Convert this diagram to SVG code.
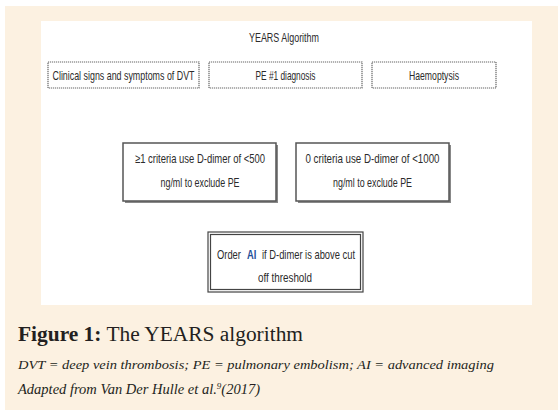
<svg xmlns="http://www.w3.org/2000/svg" width="558" height="410" viewBox="0 0 558 410">
<style>
.t{font-family:"Liberation Sans",Arial,sans-serif;font-size:13px;fill:#2b2b2b;text-anchor:middle}
.s{text-anchor:start}
.dash{fill:#fff;stroke:#666;stroke-width:1.2;stroke-dasharray:1.2 0.8}
.solid{fill:#fff;stroke:#555;stroke-width:1.5}
.cap{font-family:"Liberation Serif","Times New Roman",serif;fill:#231f20}
</style>
<rect x="0" y="0" width="558" height="410" fill="#fff"/>
<rect x="5" y="6" width="553" height="404" fill="#fcf1e1"/>
<rect x="41" y="21" width="491" height="284" fill="#fff"/>
<text class="t" x="284" y="42" textLength="70" lengthAdjust="spacingAndGlyphs">YEARS Algorithm</text>
<g id="dvt">
<rect class="dash" x="48" y="62" width="151" height="26"/>
<text class="t" x="123.5" y="80" textLength="142" lengthAdjust="spacingAndGlyphs">Clinical signs and symptoms of DVT</text>
</g>
<g id="pe">
<rect class="dash" x="209" y="62" width="153" height="26"/>
<text class="t" x="285.5" y="80" textLength="60" lengthAdjust="spacingAndGlyphs">PE #1 diagnosis</text>
</g>
<g id="haem">
<rect class="dash" x="372" y="62" width="124" height="26"/>
<text class="t" x="434" y="80" textLength="50" lengthAdjust="spacingAndGlyphs">Haemoptysis</text>
</g>
<g id="crit1">
<rect x="125" y="145" width="153" height="58" fill="#888"/>
<rect class="solid" x="123" y="143" width="153" height="58"/>
<text class="t" x="200" y="163" textLength="130" lengthAdjust="spacingAndGlyphs">≥1 criteria use D-dimer of &lt;500</text>
<text class="t" x="200" y="187" textLength="79" lengthAdjust="spacingAndGlyphs">ng/ml to exclude PE</text>
</g>
<g id="crit0">
<rect x="298" y="145" width="153" height="58" fill="#888"/>
<rect class="solid" x="296" y="143" width="153" height="58"/>
<text class="t" x="372.5" y="163" textLength="134" lengthAdjust="spacingAndGlyphs">0 criteria use D-dimer of &lt;1000</text>
<text class="t" x="372.5" y="187" textLength="79" lengthAdjust="spacingAndGlyphs">ng/ml to exclude PE</text>
</g>
<g id="order">
<rect x="208" y="232" width="155" height="60" fill="#fff" stroke="#444" stroke-width="1.2"/>
<rect x="210.5" y="234.5" width="150" height="55" fill="#fff" stroke="#444" stroke-width="1.2"/>
<g transform="translate(217,259) scale(0.72,1)">
<text class="t s" x="0" y="0">Order</text>
<text class="t s" x="41.7" y="0" style="fill:#1f4e99" font-size="14" font-weight="bold">AI</text>
<text class="t s" x="62.5" y="0">if D-dimer is above cut</text>
</g>
<text class="t" x="285" y="282" textLength="54" lengthAdjust="spacingAndGlyphs">off threshold</text>
</g>
<text class="cap" x="18" y="341" font-size="20" textLength="285" lengthAdjust="spacingAndGlyphs"><tspan font-weight="bold">Figure 1:</tspan> The YEARS algorithm</text>
<text class="cap" x="18" y="369" font-size="13.5" font-style="italic" textLength="476" lengthAdjust="spacingAndGlyphs">DVT = deep vein thrombosis; PE = pulmonary embolism; AI = advanced imaging</text>
<text class="cap" x="18" y="394" font-size="14.5" font-style="italic">Adapted from Van Der Hulle et al.<tspan font-size="9" dy="-5">9</tspan><tspan dy="5">(2017)</tspan></text>
</svg>
